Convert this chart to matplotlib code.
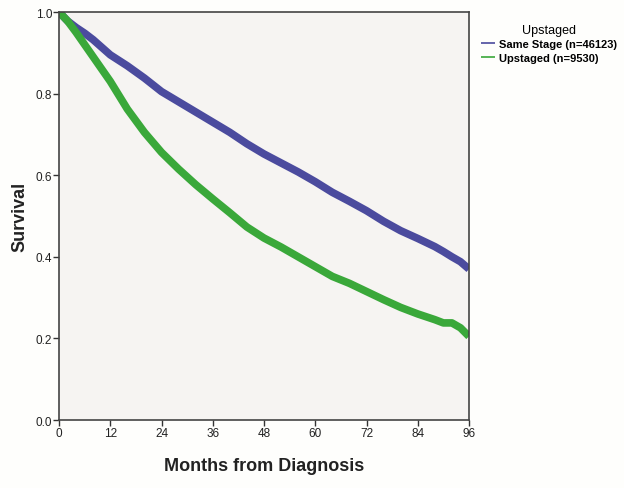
import matplotlib.pyplot as plt

plt.rcParams['font.family'] = ['Liberation Sans', 'DejaVu Sans']

# Kaplan-Meier survival estimates
months = [0, 2, 4, 6, 8, 12, 16, 20, 24, 28, 32, 36, 40, 44, 48, 52, 56,
          60, 64, 68, 72, 76, 80, 84, 88, 90, 92, 94, 96]
same_stage = [1.000, 0.978, 0.962, 0.948, 0.932, 0.895, 0.868, 0.838, 0.805,
              0.780, 0.755, 0.730, 0.705, 0.677, 0.652, 0.630, 0.608, 0.584,
              0.558, 0.536, 0.513, 0.487, 0.464, 0.445, 0.425, 0.413, 0.400,
              0.388, 0.370]
upstaged = [1.000, 0.978, 0.950, 0.920, 0.890, 0.830, 0.762, 0.705, 0.656,
            0.615, 0.577, 0.542, 0.508, 0.473, 0.446, 0.424, 0.400, 0.376,
            0.352, 0.335, 0.315, 0.295, 0.276, 0.260, 0.246, 0.238, 0.238,
            0.226, 0.205]

labels = ["Same Stage (n=46123)", "Upstaged (n=9530)"]
colors = ["#4b4b9e", "#3aa83a"]
x_ticks = [0, 12, 24, 36, 48, 60, 72, 84, 96]
y_ticks = [0.0, 0.2, 0.4, 0.6, 0.8, 1.0]

fig = plt.figure(figsize=(6.24, 4.89), dpi=100, facecolor="#fefefc")
ax = fig.add_axes([0.0946, 0.139, 0.657, 0.8344])
ax.set_facecolor("#f6f4f2")

for vals, lab, col in zip([same_stage, upstaged], labels, colors):
    ax.plot(months, vals, color=col, linewidth=5.5, label=lab,
            solid_capstyle="butt", solid_joinstyle="round")

ax.set_xlim(0, 96)
ax.set_ylim(0, 1.0)
ax.set_xticks(x_ticks)
ax.set_yticks(y_ticks)
ax.set_yticklabels([f"{v:.1f}" for v in y_ticks])
ax.tick_params(axis="both", labelsize=8.5, length=4, width=1, color="#333333",
               labelcolor="#222222", pad=1)

for s in ax.spines.values():
    s.set_color("#444444")
    s.set_linewidth(1.2)

ax.set_xlabel("Months from Diagnosis", fontsize=13, fontweight="bold",
              labelpad=13, color="#222222")
ax.set_ylabel("Survival", fontsize=13, fontweight="bold", labelpad=5,
              color="#222222")

leg = ax.legend(loc="upper left", bbox_to_anchor=(1.005, 0.995), frameon=False,
                title="Upstaged", fontsize=8, title_fontsize=9,
                handlelength=1.3, handletextpad=0.3, labelspacing=0.3)
for line in leg.get_lines():
    line.set_linewidth(1.2)
for t in leg.get_texts():
    t.set_fontweight("bold")

fig.savefig("out.png", dpi=100, facecolor=fig.get_facecolor())
